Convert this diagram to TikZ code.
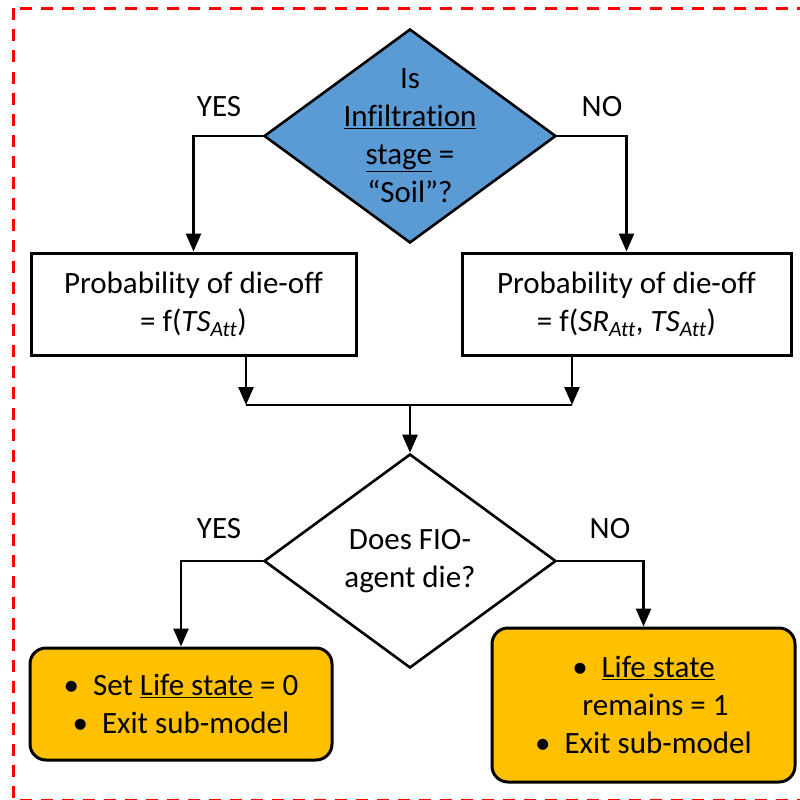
\documentclass[tikz,border=0pt]{standalone}
\usepackage{fontspec}
\setmainfont{Carlito}[Ligatures=NoCommon]
\usetikzlibrary{shapes.geometric,arrows.meta}
\definecolor{decblue}{HTML}{5B9BD5}
\definecolor{endgold}{HTML}{FFC000}
\definecolor{framered}{HTML}{FF0000}

\begin{document}
\begin{tikzpicture}[x=1pt,y=-1pt,
  every node/.style={font=\fontsize{31}{38}\selectfont},
  decision/.style={diamond, draw=black, line width=2.6pt, inner sep=0pt,
    minimum width=292pt, minimum height=214pt},
  qtext/.style={align=center, inner sep=0pt},
  procbox/.style={rectangle, draw=black, line width=3pt, inner sep=0pt, align=center},
  endbox/.style={rectangle, rounded corners=16pt, draw=black, line width=3pt,
    fill=endgold, inner sep=0pt, align=center},
  flow/.style={line width=2.6pt, -{Triangle[width=15pt,length=18pt]}},
  plainline/.style={line width=2.6pt},
  outerframe/.style={draw=framered, line width=3pt, dash pattern=on 12pt off 9pt}
]
\useasboundingbox (0,0) rectangle (800,800);
\begin{scope}
  \clip (0,0) rectangle (800,800);
  \draw[outerframe] (13,8.5) rectangle (806,800);
\end{scope}

% first decision
\node[decision, fill=decblue] (d1) at (410,136) {};
\node[qtext] (d1t) at (d1.center) {Is\\ \underline{Infiltration}\\ \underline{stage} =\\ “Soil”?};
\node[qtext] (yes1) at (219,107) {YES};
\node[qtext] (no1) at (602,107) {NO};

% die-off probability boxes
\node[procbox, minimum width=325pt, minimum height=102pt] (b1) at (193.5,304)
  {Probability of die-off\\ = f(\textit{TS}\textsubscript{\textit{Att}})};
\node[procbox, minimum width=329pt, minimum height=102pt] (b2) at (626.5,304)
  {Probability of die-off\\ = f(\textit{SR}\textsubscript{\textit{Att}}, \textit{TS}\textsubscript{\textit{Att}})};

\draw[flow] (d1.west) -| (b1.north);
\draw[flow] (d1.east) -| (b2.north);

% merge
\coordinate (jl) at (246,405);
\coordinate (jr) at (572,405);
\coordinate (jm) at (410,405);
\draw[flow] (b1.south -| jl) -- (jl);
\draw[flow] (b2.south -| jr) -- (jr);
\draw[plainline] (jl) -- (jr);

% second decision
\node[decision, fill=white] (d2) at (410,561) {};
\node[qtext] (d2t) at (d2.center) {Does FIO-\\ agent die?};
\node[qtext] (yes2) at (219,529) {YES};
\node[qtext] (no2) at (610,529) {NO};
\draw[flow] (jm) -- (d2.north);

% outcomes
\node[endbox, minimum width=302pt, minimum height=112pt] (b3) at (181,704)
  {\textbullet\hspace{0.45em}Set \underline{Life state} = 0\\ \textbullet\hspace{0.45em}Exit sub-model};
\node[endbox, minimum width=303pt, minimum height=154pt] (b4) at (643.5,705)
  {\textbullet\hspace{0.45em}\underline{Life state}\\ \hspace*{24pt}remains = 1\\ \textbullet\hspace{0.45em}Exit sub-model};

\draw[flow] (d2.west) -| (b3.north);
\draw[flow] (d2.east) -| (b4.north);
\end{tikzpicture}
\end{document}
